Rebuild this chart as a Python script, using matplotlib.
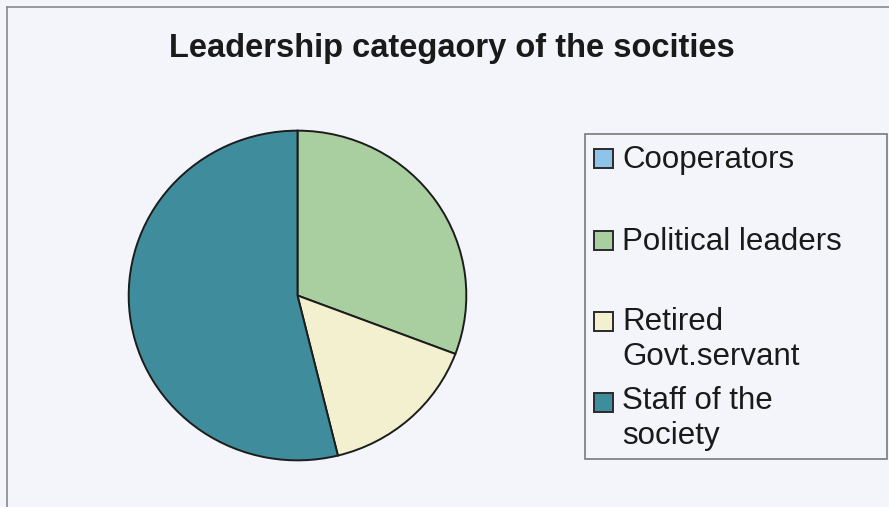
import matplotlib.pyplot as plt
from matplotlib.patches import Rectangle
from matplotlib.lines import Line2D

plt.rcParams['font.family'] = ['Liberation Sans', 'DejaVu Sans']

# 社团领导类别（人数）
categories = ['Cooperators', 'Political leaders', 'Retired\nGovt.servant', 'Staff of the\nsociety']
counts = [0, 4, 2, 7]
colors = ['#8EC3EA', '#A9CFA0', '#F2F0CF', '#3F8C9C']

W, H = 889, 507
bg = '#F3F5FA'

fig = plt.figure(figsize=(W / 100, H / 100), dpi=100, facecolor=bg)

# 外框（只有上边和左边可见）
fig.add_artist(Line2D([7 / W, 1], [1 - 7 / H, 1 - 7 / H], color='#8a8a8a', lw=1.2))
fig.add_artist(Line2D([7 / W, 7 / W], [0, 1 - 7 / H], color='#8a8a8a', lw=1.2))

fig.text(452 / W, 1 - 57 / H, 'Leadership categaory of the socities',
         ha='center', va='baseline', fontsize=23.5, fontweight='bold', color='#1a1a1a')

# 饼图（略微横向拉伸）
cx, cy, rx, ry = 297.5, 295.5, 170.5, 166.5
ax = fig.add_axes([(cx - rx) / W, (H - cy - ry) / H, 2 * rx / W, 2 * ry / H])
ax.pie(counts, colors=colors, startangle=90, counterclock=False,
       wedgeprops=dict(edgecolor='#1c1c1c', linewidth=1.4))
ax.set_aspect('auto')
ax.set_xlim(-1.01, 1.01)
ax.set_ylim(-1.01, 1.01)
ax.set_facecolor(bg)
ax.axis('off')

# 图例框
fig.add_artist(Rectangle((585 / W, 1 - 459 / H), (887 - 585) / W, (459 - 134) / H,
                         transform=fig.transFigure, facecolor=bg, edgecolor='#7a7a7a', lw=1.2))
box_y = [168, 250, 331, 412]     # 色块底边（首行基线）
text_y = [168, 250, 365, 444]    # 末行基线
for lab, col, yb, yt in zip(categories, colors, box_y, text_y):
    fig.add_artist(Rectangle((594 / W, 1 - yb / H), 19 / W, 19 / H, transform=fig.transFigure,
                             facecolor=col, edgecolor='#2a2a2a', lw=1.4))
    fig.text(622 / W, 1 - yt / H, lab, ha='left', va='baseline', fontsize=22.5,
             color='#1a1a1a', linespacing=1.2)

plt.savefig('out.png', dpi=100, facecolor=bg)
